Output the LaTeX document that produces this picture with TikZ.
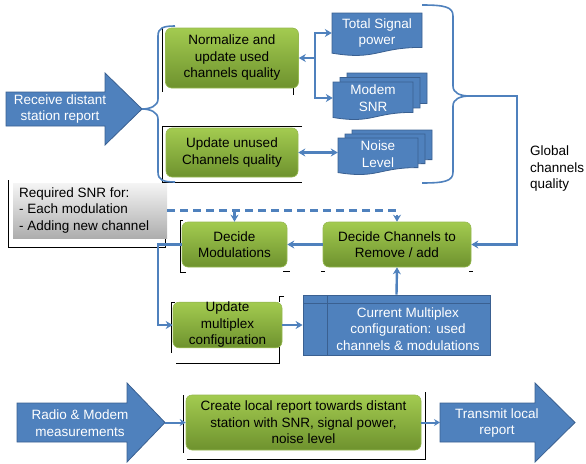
\documentclass[tikz,border=0pt]{standalone}
\usepackage{fontspec}
\setmainfont{Liberation Sans}
\usetikzlibrary{arrows.meta,calc}
\definecolor{cblue}{RGB}{79,129,189}
\definecolor{bblue}{RGB}{58,96,145}
\definecolor{grTop}{RGB}{163,203,80}
\definecolor{grBot}{RGB}{110,146,46}
\definecolor{grLine}{RGB}{150,185,80}
\newcommand\dfont{\fontsize{13.5}{16.5}\selectfont}
\newcommand\docshape[4]{\filldraw[docsty] (#1,#2) -- (#1+#3,#2) -- (#1+#3,#2+0.80*#4) .. controls (#1+0.5*#3,#2+0.80*#4) and (#1+0.5*#3,#2+1.107*#4) .. (#1,#2+0.934*#4) -- cycle;}
\begin{document}
\begin{tikzpicture}[x=1pt,y=-1pt,
  art/.style={black, line width=0.7pt},
  gbox/.style={rounded corners=6pt, top color=grTop, bottom color=grBot, draw=grLine, line width=0.6pt, align=center, font=\dfont, text=black, inner sep=0pt},
  bbox/.style={fill=cblue, draw=bblue, line width=0.8pt},
  docsty/.style={fill=cblue, draw=bblue, line width=0.8pt},
  wtxt/.style={align=center, font=\dfont, text=white, inner sep=0pt},
  ktxt/.style={align=center, font=\dfont, text=black, inner sep=0pt},
  conn/.style={draw=cblue, line width=2.4pt, -{Stealth[length=7pt,width=8pt]}},
  dconn/.style={draw=cblue, line width=2.4pt, {Stealth[length=7pt,width=8pt]}-{Stealth[length=7pt,width=8pt]}},
  thinconn/.style={draw=cblue, line width=2pt, -{Stealth[length=6pt,width=7pt]}},
  brace/.style={draw=cblue, line width=1.6pt}
]
\useasboundingbox (0,0) rectangle (586,463);

% thin black frame artifacts
\draw[art] (162,28) -- (162,92);
\draw[art] (293,28) -- (293,95);
\draw[art] (302,126) -- (162,126) -- (162,182) -- (302,182);
\draw[art] (8,180) -- (8,247) -- (165,247) -- (165,238);
\draw[art] (183,220) -- (180,220) -- (180,272) -- (186,272);
\draw[art] (283,271) -- (290,271);
\draw[art] (321,271) -- (325,271);
\draw[art] (469,271) -- (473,271);
\draw[art] (175,302) -- (171,302) -- (171,353);
\draw[art] (284,296) -- (279,296) -- (279,302);
\draw[art] (279,347) -- (279,363) -- (176,363);
\draw[art] (183,395) -- (183,453);
\draw[art] (187,459) -- (425,459) -- (425,392);

% block arrows
\filldraw[bbox] (6,92) -- (105,92) -- (105,73) -- (142,109) -- (105,145) -- (105,126) -- (6,126) -- cycle;
\node[wtxt] (recv) at (60,109) {Receive distant\\station report};
\filldraw[bbox] (17,403) -- (127,403) -- (127,383) -- (165,422.5) -- (127,462) -- (127,442) -- (17,442) -- cycle;
\node[wtxt] (radio) at (80,423) {Radio \& Modem\\measurements};
\filldraw[bbox] (440,403) -- (535,403) -- (535,383) -- (575,422.5) -- (535,462) -- (535,442) -- (440,442) -- cycle;
\node[wtxt] (trans) at (497,423) {Transmit local\\report};
\coordinate (radtip) at (165,422.5);
\coordinate (trtail) at (440,422.5);

% braces
\draw[brace] (175,26) .. controls (163,26) and (158,28) .. (158,36) -- (158,99) .. controls (158,106) and (150,109) .. (142,109) .. controls (150,109) and (158,112) .. (158,119) -- (158,172) .. controls (158,180) and (163,182) .. (175,182);
\draw[brace] (422,5) .. controls (445,5) and (453,7) .. (453,16) -- (453,86) .. controls (453,93) and (460,96) .. (470,96) .. controls (460,96) and (453,99) .. (453,106) -- (453,172) .. controls (453,181) and (445,183) .. (422,183);
\coordinate (bracetip) at (470,96);

% green boxes
\node[gbox, minimum width=133pt, minimum height=60pt] (norm) at (232,58) {Normalize and\\update used\\channels quality};
\node[gbox, minimum width=132pt, minimum height=49pt] (unused) at (232,152.5) {Update unused\\Channels quality};
\node[gbox, minimum width=105pt, minimum height=45pt] (decmod) at (234.5,244.5) {Decide\\Modulations};
\node[gbox, minimum width=148pt, minimum height=45pt] (decch) at (397,244.5) {Decide Channels to\\Remove / add};
\node[gbox, minimum width=109pt, minimum height=44pt] (updmux) at (227.5,325) {Update\\multiplex\\configuration};
\node[gbox, minimum width=235pt, minimum height=55pt] (create) at (303.5,422.5) {Create local report towards distant\\station with SNR, signal power,\\noise level};

% document shapes
\docshape{332}{13}{90}{43}
\node[wtxt, minimum width=90pt] (tsp) at (377,33) {Total Signal\\power};
\docshape{347}{73}{80}{38}
\docshape{340}{77.5}{80}{38}
\docshape{333}{82}{80}{38}
\node[wtxt, minimum width=80pt] (modem) at (373,98) {Modem\\SNR};
\docshape{352}{130}{80}{37}
\docshape{345}{134}{80}{37}
\docshape{338}{138}{80}{37}
\node[wtxt, minimum width=80pt] (noise) at (378,154) {Noise\\Level};

% current multiplex (internal storage)
\node[bbox, minimum width=187pt, minimum height=60pt, inner sep=0pt] (curmux) at (396.5,325) {};
\draw[bblue, line width=0.8pt] (303,303) -- (490,303);
\draw[bblue, line width=0.8pt] (327,295) -- (327,355);
\node[wtxt] (curtxt) at (408,329) {Current Multiplex\\configuration: used\\channels \& modulations};

% required SNR box
\node[top color=black!4, bottom color=black!32, minimum width=154pt, minimum height=55pt, inner sep=0pt] (req) at (90,210.5) {};
\node[ktxt, align=left, anchor=west] (reqtxt) at (19,210.5) {Required SNR for:\\- Each modulation\\- Adding new channel};

% global label
\node[ktxt, align=left, anchor=west] (glob) at (530,169) {Global\\channels\\quality};

% connectors
\coordinate (j) at (315,58);
\draw[conn] (j) -- (norm.east);
\draw[conn] (j) |- (tsp.west);
\draw[conn] (j) |- (modem.west);
\draw[dconn] (unused.east) -- (unused.east -| noise.west);
\draw[conn] (bracetip) -- (517,96) |- (decch.east);
\draw[conn] (decch.west) -- (decmod.east);
\draw[conn] (decmod.west) -- ++(-24,0) |- (updmux.west);
\draw[conn] (updmux.east) -- (curmux.west);
\draw[conn] (curmux.north) -- (decch.south);
\draw[conn, dash pattern=on 8pt off 5pt] (req.east) -| (decch.north);
\draw[conn, dash pattern=on 8pt off 5pt] (decmod.north |- req.east) -- (decmod.north);
\draw[thinconn] (radtip) -- (create.west);
\draw[thinconn] (create.east) -- (trtail);
\end{tikzpicture}
\end{document}
